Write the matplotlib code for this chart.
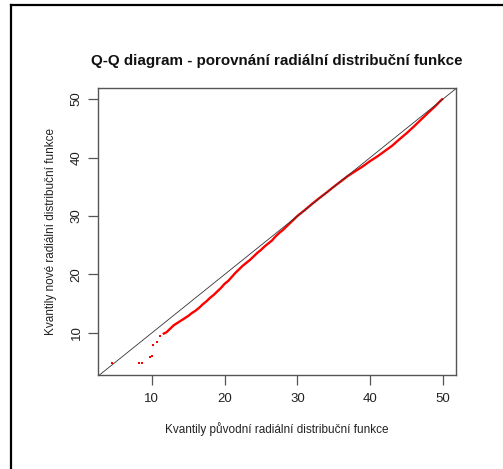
import matplotlib
matplotlib.use("Agg")
import matplotlib.pyplot as plt
from matplotlib.lines import Line2D

plt.rcParams['font.family'] = ['Liberation Sans', 'DejaVu Sans']

title = "Q-Q diagram - porovnání radiální distribuční funkce"
xlabel = "Kvantily původní radiální distribuční funkce"
ylabel = "Kvantily nové radiální distribuční funkce"
ticks = [10, 20, 30, 40, 50]

# isolated low-end quantile pairs
tail_x = [4.5, 8.2, 8.6, 9.7, 10.0, 10.2, 10.7, 11.1]
tail_y = [4.9, 4.9, 4.9, 5.8, 6.0, 8.0, 8.5, 9.5]

# dense quantile pairs (original vs. new)
qx = [11.5, 12.0, 12.5, 13.0, 13.5, 14.0, 14.5, 15.0, 15.5, 16.0, 16.5, 17.0,
      17.5, 18.0, 18.5, 19.0, 19.5, 20.0, 20.5, 21.0, 21.5, 22.0, 22.5, 23.0,
      23.5, 24.0, 24.5, 25.0, 25.5, 26.0, 26.5, 27.0, 27.5, 28.0, 28.5, 29.0,
      29.5, 30.0, 31.0, 32.0, 33.0, 34.0, 35.0, 36.0, 37.0, 38.0, 39.0, 40.0,
      41.0, 42.0, 43.0, 44.0, 45.0, 46.0, 47.0, 48.0, 49.0, 49.5, 50.0]
qy = [9.8, 10.1, 10.7, 11.3, 11.7, 12.1, 12.5, 12.9, 13.4, 13.8, 14.3, 14.9,
      15.4, 16.0, 16.5, 17.1, 17.7, 18.4, 18.9, 19.6, 20.3, 20.9, 21.5, 22.0,
      22.5, 23.1, 23.7, 24.2, 24.8, 25.3, 25.8, 26.5, 27.1, 27.6, 28.2, 28.8,
      29.4, 30.0, 31.0, 32.05, 33.05, 34.0, 35.0, 35.95, 36.9, 37.7, 38.5, 39.4,
      40.2, 41.1, 42.0, 43.1, 44.15, 45.3, 46.5, 47.7, 48.85, 49.5, 50.1]

fig = plt.figure(figsize=(5.03, 4.69), dpi=100)
ax = fig.add_axes([0.1948, 0.2004, 0.7118, 0.612])

ax.plot(tail_x, tail_y, ls='none', marker='s', ms=1.6, color='red', mew=0)
ax.plot(qx, qy, color='red', lw=1.7, solid_capstyle='butt')
ax.axline((0, 0), slope=1, color='#333333', lw=0.6)

ax.set_xlim(2.6, 51.8)
ax.set_ylim(2.8, 51.9)
ax.set_xticks(ticks)
ax.set_yticks(ticks)
ax.set_yticklabels([str(t) for t in ticks], rotation=90, va='center')
ax.tick_params(direction='out', length=7, width=0.9, color='#555555',
               labelsize=9.5, labelcolor='#222222')
ax.tick_params(axis='x', pad=6)
ax.tick_params(axis='y', pad=4)
for s in ax.spines.values():
    s.set_color('#555555')
    s.set_linewidth(1.0)

ax.set_xlabel(xlabel, fontsize=8.5, color='#222222', labelpad=12)
ax.set_ylabel(ylabel, fontsize=8.5, color='#222222', labelpad=10)
fig.text(0.5507, 1 - 61 / 469, title, ha='center', va='center',
         fontsize=10.9, fontweight='bold', color='#111111')

# page frame along the top and left edges
fig.add_artist(Line2D([10.5 / 503, 1], [1 - 5 / 469, 1 - 5 / 469],
                      transform=fig.transFigure, color='black', lw=1.6))
fig.add_artist(Line2D([10.5 / 503, 10.5 / 503], [0, 1 - 5 / 469],
                      transform=fig.transFigure, color='black', lw=1.6))

fig.savefig('out.png', dpi=100, facecolor='white')
